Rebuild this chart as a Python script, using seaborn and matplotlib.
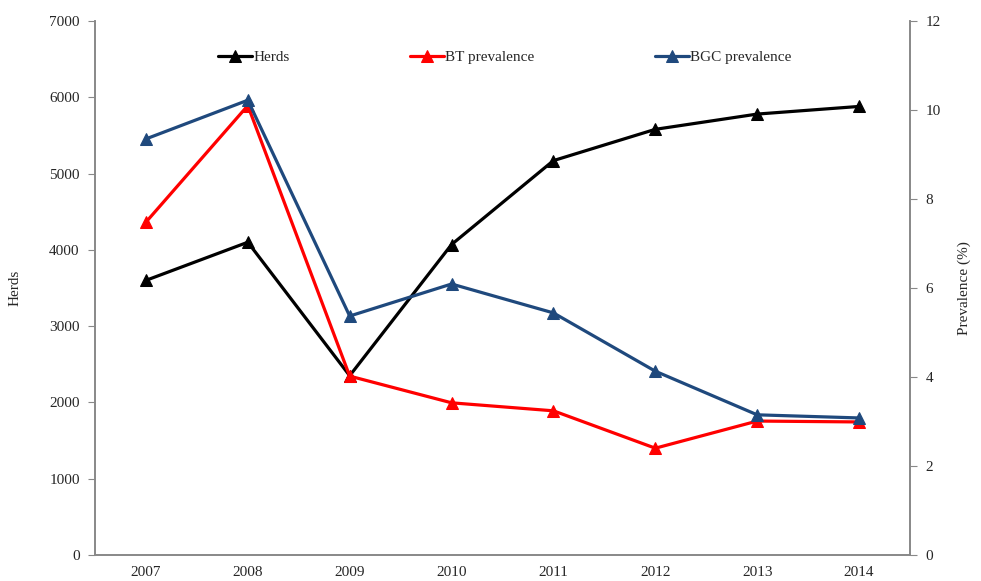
import matplotlib
matplotlib.use("Agg")
import matplotlib.pyplot as plt
import seaborn as sns
import pandas as pd
import numpy as np

years = ["2007", "2008", "2009", "2010", "2011", "2012", "2013", "2014"]
herds = [3600, 4100, 2350, 4070, 5170, 5580, 5780, 5880]
bt_prev = [7.48, 10.1, 4.02, 3.42, 3.24, 2.40, 3.01, 2.99]
bgc_prev = [9.35, 10.22, 5.37, 6.09, 5.44, 4.13, 3.15, 3.08]

sns.set_style("white")
plt.rcParams['font.family'] = ['Liberation Serif', 'DejaVu Serif']

idx = np.arange(len(years))
df_h = pd.DataFrame({"x": idx, "v": herds})
df_bt = pd.DataFrame({"x": idx, "v": bt_prev})
df_bgc = pd.DataFrame({"x": idx, "v": bgc_prev})

fig = plt.figure(figsize=(9.81, 5.81), dpi=100)
ax = fig.add_axes([95/981, 26/581, (910-95)/981, (555-21)/581])
ax2 = ax.twinx()

black = "#000000"
red = "#FF0000"
blue = "#1F497D"
lw = 2.3
ms = 8

sns.lineplot(data=df_h, x="x", y="v", ax=ax, color=black, marker="^", markersize=ms,
             markeredgecolor=black, linewidth=lw, label="Herds", legend=False)
sns.lineplot(data=df_bt, x="x", y="v", ax=ax2, color=red, marker="^", markersize=ms,
             markeredgecolor=red, linewidth=lw, label="BT prevalence", legend=False)
sns.lineplot(data=df_bgc, x="x", y="v", ax=ax2, color=blue, marker="^", markersize=ms,
             markeredgecolor=blue, linewidth=lw, label="BGC prevalence", legend=False)

ax.set_xlim(-0.5, len(years) - 0.5)
ax.set_ylim(0, 7000)
ax2.set_ylim(0, 12)
ax.set_yticks(range(0, 7001, 1000))
ax2.set_yticks(range(0, 13, 2))

ax.set_xticks(np.arange(-0.5, len(years), 1.0))
ax.set_xticklabels([])
ax.set_xticks(idx, minor=True)
ax.set_xticklabels(years, minor=True)
ax.tick_params(axis="x", which="minor", length=0, pad=8, labelsize=11)
ax.tick_params(axis="x", which="major", length=5, color="#888888", direction="out")
ax.tick_params(axis="y", length=5, color="#888888", direction="out", labelsize=11, pad=6)
ax2.tick_params(axis="y", length=5, color="#888888", direction="out", labelsize=11, pad=6)

for a in (ax, ax2):
    a.spines["top"].set_visible(False)
    for s in ("left", "right", "bottom"):
        a.spines[s].set_color("#888888")
        a.spines[s].set_linewidth(1.2)
    a.grid(False)

ax.set_xlabel("")
ax.set_ylabel("Herds", fontsize=11, labelpad=20)
ax2.set_ylabel("Prevalence (%)", fontsize=11, labelpad=12)

h1, l1 = ax.get_legend_handles_labels()
h2, l2 = ax2.get_legend_handles_labels()
leg = ax2.legend(h1 + h2, l1 + l2, loc="upper left", bbox_to_anchor=(0.134, 0.97), ncol=3,
                 frameon=False, fontsize=11, columnspacing=7.9, handlelength=2.2,
                 handletextpad=0.1)

fig.savefig("out.png", dpi=100)
